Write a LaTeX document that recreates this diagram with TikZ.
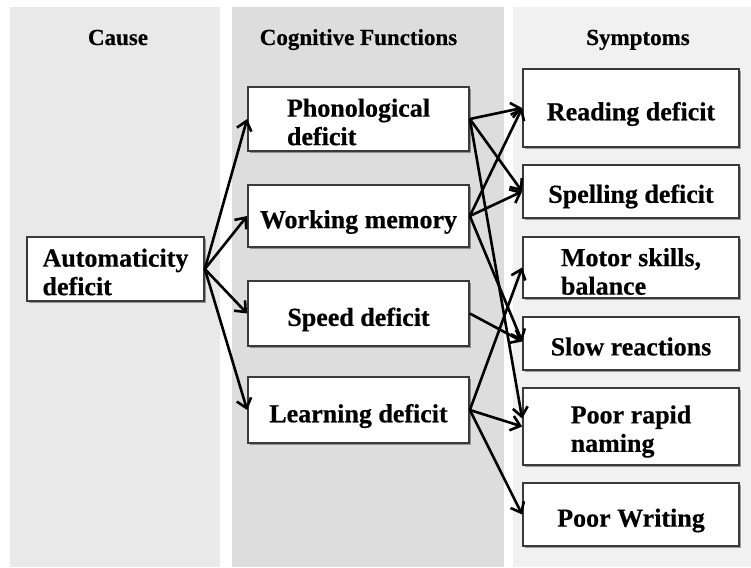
\documentclass[tikz,border=0pt]{standalone}
\usepackage{fontspec}
\setmainfont{Liberation Serif}
\newfontfamily\heavyfont[FakeBold=0.5]{Liberation Serif Bold}
\usetikzlibrary{arrows.meta,shadows}
\definecolor{causebg}{HTML}{E9E9E9}
\definecolor{cogbg}{HTML}{DDDDDD}
\definecolor{symbg}{HTML}{F1F1F1}
\definecolor{boxline}{HTML}{3A3A3A}
\tikzset{
  panel/.style={fill=#1, draw=none},
  heading/.style={anchor=base, font=\heavyfont\fontsize{23}{25}\selectfont},
  box/.style={draw=boxline, line width=1.7pt, fill=white, inner sep=0pt,
    drop shadow={shadow xshift=1.5pt, shadow yshift=-2pt, opacity=0.35, fill=black}},
  boxtext/.style={inner sep=0pt, align=left, font=\heavyfont\fontsize{26}{28.5}\selectfont},
  link/.style={line width=2.6pt, -{Straight Barb[length=9pt,width=15pt,line width=2.6pt]}}
}
\begin{document}
\begin{tikzpicture}[x=1pt,y=-1pt]
  \useasboundingbox[fill=white] (0,0) rectangle (751,567);
  % column backgrounds
  \fill[panel=causebg] (10,7) rectangle (220,567);
  \fill[panel=cogbg] (232,7) rectangle (504,567);
  \fill[panel=symbg] (513,7) rectangle (751,567);
  % column headings
  \node[heading] (hcause) at (118,45) {Cause};
  \node[heading] (hcog) at (358.5,45) {Cognitive Functions};
  \node[heading] (hsym) at (638,45) {Symptoms};
  % cause
  \node[box, minimum width=177pt, minimum height=64pt] (auto) at (115.5,269) {};
  % cognitive functions
  \node[box, minimum width=221pt, minimum height=64pt] (phon) at (358.5,119) {};
  \node[box, minimum width=221pt, minimum height=62pt] (wm) at (358.5,216) {};
  \node[box, minimum width=221pt, minimum height=65pt] (speed) at (358.5,313.5) {};
  \node[box, minimum width=221pt, minimum height=66pt] (learn) at (358.5,410) {};
  % symptoms
  \node[box, minimum width=216pt, minimum height=78pt] (read) at (631,108) {};
  \node[box, minimum width=216pt, minimum height=53pt] (spell) at (631,191.5) {};
  \node[box, minimum width=216pt, minimum height=61pt] (motor) at (631,267.5) {};
  \node[box, minimum width=216pt, minimum height=53pt] (slow) at (631,343.5) {};
  \node[box, minimum width=216pt, minimum height=77pt] (naming) at (631,426.5) {};
  \node[box, minimum width=216pt, minimum height=63pt] (write) at (631,514.5) {};
  % box labels
  \node[boxtext] (auto-t) at ([yshift=-3pt]auto.center) {Automaticity\\deficit};
  \node[boxtext] (phon-t) at ([yshift=-3pt]phon.center) {Phonological\\deficit};
  \node[boxtext] (wm-t) at ([yshift=-6pt]wm.center) {Working memory};
  \node[boxtext] (speed-t) at ([yshift=-6pt]speed.center) {Speed deficit};
  \node[boxtext] (learn-t) at ([yshift=-6pt]learn.center) {Learning deficit};
  \node[boxtext] (read-t) at ([yshift=-6pt]read.center) {Reading deficit};
  \node[boxtext] (spell-t) at ([yshift=-5pt]spell.center) {Spelling deficit};
  \node[boxtext] (motor-t) at ([yshift=-4pt]motor.center) {Motor skills,\\balance};
  \node[boxtext] (slow-t) at ([yshift=-3pt]slow.center) {Slow reactions};
  \node[boxtext] (naming-t) at ([yshift=-5pt]naming.center) {Poor rapid\\naming};
  \node[boxtext] (write-t) at ([yshift=-6pt]write.center) {Poor Writing};
  % cause -> cognitive functions
  \draw[link] (auto.east) -- (phon.west);
  \draw[link] (auto.east) -- (wm.west);
  \draw[link] (auto.east) -- (speed.west);
  \draw[link] (auto.east) -- (learn.west);
  % cognitive functions -> symptoms
  \draw[link] (phon.east) -- (read.west);
  \draw[link] (phon.east) -- (spell.west);
  \draw[link] (phon.east) -- ([yshift=8pt]naming.west);
  \draw[link] (wm.east) -- (read.west);
  \draw[link] (wm.east) -- (spell.west);
  \draw[link] (wm.east) -- ([yshift=2pt]slow.west);
  \draw[link] (speed.east) -- ([yshift=2pt]slow.west);
  \draw[link] (learn.east) -- (motor.west);
  \draw[link] (learn.east) -- (naming.west);
  \draw[link] (learn.east) -- (write.west);
\end{tikzpicture}
\end{document}
